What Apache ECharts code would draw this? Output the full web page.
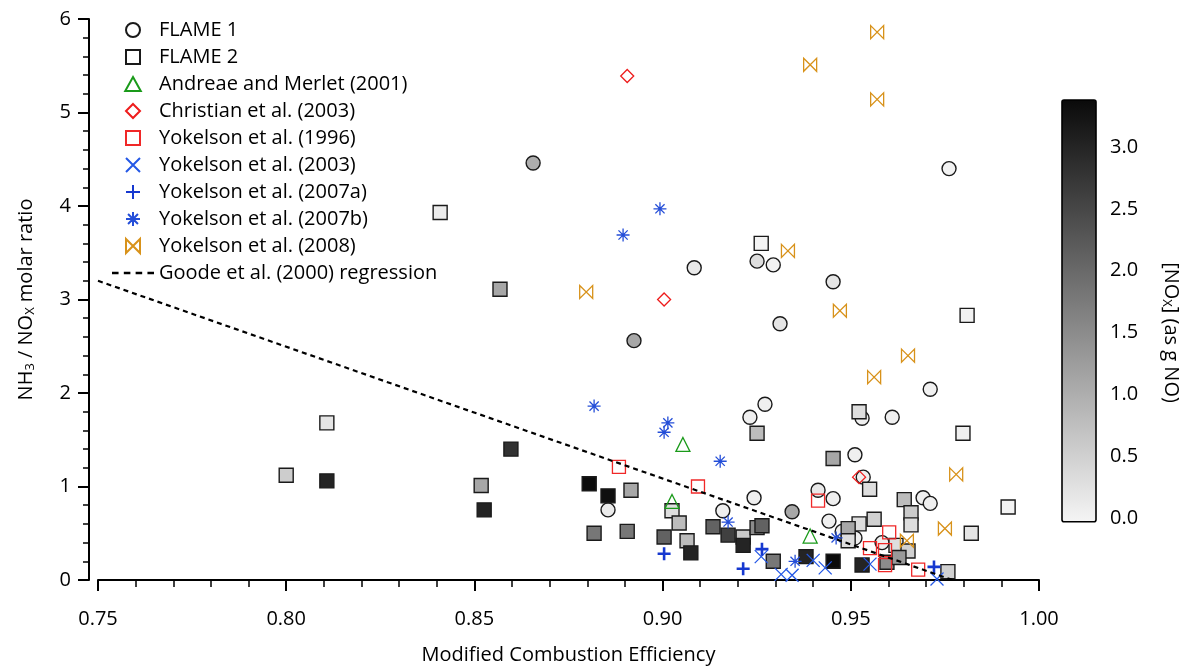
<!DOCTYPE html>
<html>
<head>
<meta charset="utf-8">
<script src="https://cdn.jsdelivr.net/npm/echarts@6/dist/echarts.min.js"></script>
<style>
  html, body { margin: 0; padding: 0; background: #fff; }
  #chart { width: 1195px; height: 668px; }
</style>
</head>
<body>
<div id="chart"></div>
<script>
// [MCE, NH3/NOx ratio, NOx (g NO)]
const flame1 = [
  [0.8656, 4.46, 1.0], [0.9084, 3.34, 0.15], [0.8924, 2.56, 1.1], [0.9251, 3.41, 0.3],
  [0.9294, 3.37, 0.02], [0.9312, 2.74, 0.2], [0.9453, 3.19, 0.2], [0.9761, 4.40, 0.02],
  [0.9232, 1.74, 0.05], [0.9272, 1.88, 0.05], [0.9711, 2.04, 0.03], [0.9530, 1.73, 0.05],
  [0.9610, 1.74, 0.05], [0.9511, 1.34, 0.05], [0.9533, 1.10, 0.05], [0.9413, 0.96, 0.15],
  [0.9453, 0.87, 0.05], [0.9243, 0.88, 0.05], [0.8855, 0.75, 0.12], [0.9160, 0.74, 0.05],
  [0.9344, 0.73, 1.1], [0.9442, 0.63, 0.05], [0.9477, 0.52, 0.05], [0.9511, 0.45, 0.05],
  [0.9583, 0.40, 0.05], [0.9692, 0.88, 0.05], [0.9711, 0.82, 0.05]
];
const flame2 = [
  [0.8000, 1.12, 0.55], [0.8108, 1.68, 0.2], [0.8108, 1.06, 3.0], [0.8409, 3.93, 0.1],
  [0.8568, 3.11, 1.1], [0.8518, 1.01, 1.1], [0.8526, 0.75, 3.0], [0.8597, 1.40, 2.8],
  [0.8805, 1.03, 3.35], [0.8855, 0.90, 3.3], [0.8916, 0.96, 1.1], [0.8818, 0.50, 1.8],
  [0.8906, 0.52, 1.8], [0.9025, 0.74, 0.3], [0.9044, 0.61, 0.8], [0.9004, 0.46, 2.1],
  [0.9065, 0.42, 0.8], [0.9075, 0.29, 3.0], [0.9134, 0.57, 2.1], [0.9174, 0.48, 2.6],
  [0.9214, 0.46, 0.6], [0.9214, 0.37, 3.0], [0.9251, 0.56, 1.5], [0.9264, 0.58, 2.1],
  [0.9294, 0.20, 1.8], [0.9381, 0.25, 3.0], [0.9453, 0.20, 3.36], [0.9530, 0.16, 3.0],
  [0.9262, 3.60, 0.0], [0.9809, 2.83, 0.03], [0.9251, 1.57, 0.8], [0.9522, 1.80, 0.3],
  [0.9798, 1.57, 0.05], [0.9453, 1.30, 1.1], [0.9550, 0.97, 0.3], [0.9642, 0.86, 0.8],
  [0.9660, 0.72, 0.6], [0.9660, 0.59, 0.3], [0.9918, 0.78, 0.0], [0.9820, 0.50, 0.2],
  [0.9522, 0.60, 0.3], [0.9562, 0.65, 0.5], [0.9493, 0.55, 1.1], [0.9493, 0.42, 0.3],
  [0.9620, 0.37, 0.3], [0.9652, 0.31, 0.5], [0.9596, 0.19, 1.5], [0.9628, 0.24, 1.3],
  [0.9758, 0.09, 0.5]
];
const andreae2001 = [[0.9054, 1.45], [0.9025, 0.84], [0.9392, 0.47]];
const christian2003 = [[0.8906, 5.39], [0.9004, 3.00], [0.9522, 1.10]];
const yokelson1996 = [
  [0.8884, 1.21], [0.9094, 1.00], [0.9413, 0.85], [0.9602, 0.51],
  [0.9551, 0.34], [0.9591, 0.32], [0.9591, 0.16], [0.9679, 0.11]
];
const yokelson2003 = [
  [0.9315, 0.06], [0.9344, 0.05], [0.9400, 0.21], [0.9432, 0.13],
  [0.9551, 0.17], [0.9729, 0.01], [0.9262, 0.25]
];
const yokelson2007a = [[0.9004, 0.28], [0.9214, 0.12], [0.9264, 0.33], [0.9721, 0.14]];
const yokelson2007b = [
  [0.8993, 3.97], [0.8895, 3.69], [0.8818, 1.86], [0.9014, 1.68], [0.9004, 1.58],
  [0.9153, 1.27], [0.9174, 0.62], [0.9352, 0.20], [0.9461, 0.45]
];
const yokelson2008 = [
  [0.9570, 5.86], [0.9392, 5.51], [0.9570, 5.14], [0.9333, 3.52], [0.8797, 3.08],
  [0.9471, 2.88], [0.9652, 2.40], [0.9562, 2.17], [0.9780, 1.13], [0.9750, 0.55],
  [0.9649, 0.42]
];
const goodeRegression = [[0.75, 3.20], [0.977, 0.0]];

// colour scale for [NOx]
const noxRange = [-0.03, 3.38];
const grayRamp = ['#f5f5f5', '#0a0a0a'];

const FONT = 'Open Sans';
const FS = 20;
const symSquare = 'path://M0,0L10,0L10,10L0,10Z';
const symTriangle = 'path://M5,0L10,9L0,9Z';
const symDiamond = 'path://M5,0L10,5L5,10L0,5Z';
const symBowtie = 'path://M0,0L10,10L10,0L0,10Z';
const symStar = 'path://M5,0L5,10M0,5L10,5M1.46,1.46L8.54,8.54M8.54,1.46L1.46,8.54M4.2,5A0.8,0.8,0,1,0,5.8,5A0.8,0.8,0,1,0,4.2,5Z';
const symPlus = 'path://M5,0L5,10M0,5L10,5';
const symCross = 'path://M0,0L10,10M10,0L0,10';
const iconDash = 'path://M0,0L5,0L5,2L0,2ZM9,0L14,0L14,2L9,2ZM18,0L23,0L23,2L18,2ZM27,0L32,0L32,2L27,2Z';

const chart = echarts.init(document.getElementById('chart'));

function flameSeries(name, data, symbol) {
  return {
    name, type: 'scatter', data, symbol, symbolSize: 14,
    xAxisIndex: 0, yAxisIndex: 0,
    itemStyle: { color: '#ffffff', borderColor: '#1a1a1a', borderWidth: 1.4, opacity: 1 },
    z: 2
  };
}
function refSeries(name, data, symbol, color, lw, size, fill) {
  return {
    name, type: 'scatter', data, symbol, symbolSize: size,
    xAxisIndex: 0, yAxisIndex: 0,
    itemStyle: { color: fill || 'rgba(0,0,0,0)', borderColor: color, borderWidth: lw, opacity: 1 },
    z: 3
  };
}
const subRich = { sub: { fontFamily: FONT, fontSize: 13, color: '#000', verticalAlign: 'bottom', padding: [9, 0, 0, 0] } };

const option = {
  backgroundColor: '#ffffff',
  animation: false,
  textStyle: { fontFamily: FONT, color: '#000' },
  grid: [
    { left: 98, width: 941, top: 19, height: 561, containLabel: false, outerBoundsMode: 'none' },
    { left: 1062, width: 34, top: 147, height: 371, containLabel: false, outerBoundsMode: 'none' }
  ],
  visualMap: {
    type: 'continuous', show: false, min: noxRange[0], max: noxRange[1],
    dimension: 2, seriesIndex: [0, 1],
    inRange: { color: grayRamp }
  },
  legend: {
    orient: 'vertical', left: 112, top: 20, padding: 0,
    itemWidth: 42, itemHeight: 14, itemGap: 7.0, symbolKeepAspect: true,
    textStyle: { fontFamily: FONT, fontSize: FS, color: '#000' },
    data: [
      { name: 'FLAME 1', itemStyle: { color: '#fff' } },
      { name: 'FLAME 2', itemStyle: { color: '#fff' } },
      'Andreae and Merlet (2001)', 'Christian et al. (2003)', 'Yokelson et al. (1996)',
      'Yokelson et al. (2003)', 'Yokelson et al. (2007a)', 'Yokelson et al. (2007b)',
      'Yokelson et al. (2008)',
      { name: 'Goode et al. (2000) regression', icon: iconDash,
        itemStyle: { color: '#000', borderWidth: 0 } }
    ]
  },
  xAxis: [
    {
      gridIndex: 0, type: 'value', min: 0.75, max: 1.0, interval: 0.05,
      position: 'bottom', offset: 2,
      axisLine: { lineStyle: { color: '#000', width: 2 } },
      axisTick: { length: 11, lineStyle: { color: '#000', width: 2 } },
      minorTick: { show: true, splitNumber: 5, length: 7, lineStyle: { color: '#000', width: 1.5 } },
      splitLine: { show: false },
      axisLabel: { fontFamily: FONT, fontSize: FS, color: '#000', margin: 27, formatter: v => v.toFixed(2) },
      name: 'Modified Combustion Efficiency', nameLocation: 'middle', nameGap: 63,
      nameTextStyle: { fontFamily: FONT, fontSize: FS, color: '#000' }
    },
    { gridIndex: 1, type: 'value', min: 0, max: 1, show: false }
  ],
  yAxis: [
    {
      gridIndex: 0, type: 'value', min: 0, max: 6, interval: 1, offset: 9,
      axisLine: { show: true, lineStyle: { color: '#000', width: 2 } },
      axisTick: { show: true, length: 11, lineStyle: { color: '#000', width: 2 } },
      minorTick: { show: true, splitNumber: 5, length: 6, lineStyle: { color: '#000', width: 1.5 } },
      splitLine: { show: false },
      axisLabel: { fontFamily: FONT, fontSize: FS, color: '#000', margin: 18 },
      name: 'NH{sub|3} / NO{sub|X} molar ratio', nameLocation: 'middle', nameGap: 52, nameRotate: 90,
      nameTextStyle: { fontFamily: FONT, fontSize: FS, color: '#000', rich: subRich }
    },
    {
      gridIndex: 1, type: 'value', min: 0, max: 3, interval: 0.5, position: 'right',
      axisLine: { show: false },
      axisTick: { show: true, length: 9, lineStyle: { color: '#000', width: 2 } },
      splitLine: { show: false },
      axisLabel: { fontFamily: FONT, fontSize: FS, color: '#000', margin: 14, formatter: v => v.toFixed(1) },
      name: '[NO{sub|X}] (as g NO)', nameLocation: 'middle', nameGap: 64, nameRotate: -90,
      nameTextStyle: { fontFamily: FONT, fontSize: FS, color: '#000', rich: subRich }
    }
  ],
  series: [
    flameSeries('FLAME 1', flame1, 'circle'),
    flameSeries('FLAME 2', flame2, symSquare),
    refSeries('Andreae and Merlet (2001)', andreae2001, symTriangle, '#1a9a1a', 1.3, 14),
    refSeries('Christian et al. (2003)', christian2003, symDiamond, '#ee1c1c', 1.3, 13),
    refSeries('Yokelson et al. (1996)', yokelson1996, symSquare, '#f02828', 1.3, 13),
    refSeries('Yokelson et al. (2003)', yokelson2003, symCross, '#2458e6', 1.3, 13),
    refSeries('Yokelson et al. (2007a)', yokelson2007a, symPlus, '#1638d0', 2.6, 13),
    refSeries('Yokelson et al. (2007b)', yokelson2007b, symStar, '#244ed8', 1.3, 13, '#244ed8'),
    refSeries('Yokelson et al. (2008)', yokelson2008, symBowtie, '#d8921a', 1.3, 13),
    {
      name: 'Goode et al. (2000) regression', type: 'line', data: goodeRegression,
      xAxisIndex: 0, yAxisIndex: 0, symbol: 'none', z: 4,
      lineStyle: { color: '#000', width: 2.2, type: [5, 4] },
      itemStyle: { color: '#000' }
    },
    {
      // gradient colour bar for the [NOx] scale
      type: 'custom', xAxisIndex: 1, yAxisIndex: 1, clip: false, silent: true,
      data: [[0, noxRange[0], noxRange[1]]],
      renderItem: function (params, api) {
        const top = api.coord([0, api.value(2)]);
        const bottom = api.coord([1, api.value(1)]);
        return {
          type: 'rect',
          shape: { x: top[0], y: top[1], width: bottom[0] - top[0], height: bottom[1] - top[1], r: 2 },
          style: {
            fill: new echarts.graphic.LinearGradient(0, 0, 0, 1, [
              { offset: 0, color: grayRamp[1] },
              { offset: 1, color: grayRamp[0] }
            ]),
            stroke: '#000', lineWidth: 1.6
          }
        };
      }
    }
  ]
};

chart.setOption(option);
</script>
</body>
</html>
